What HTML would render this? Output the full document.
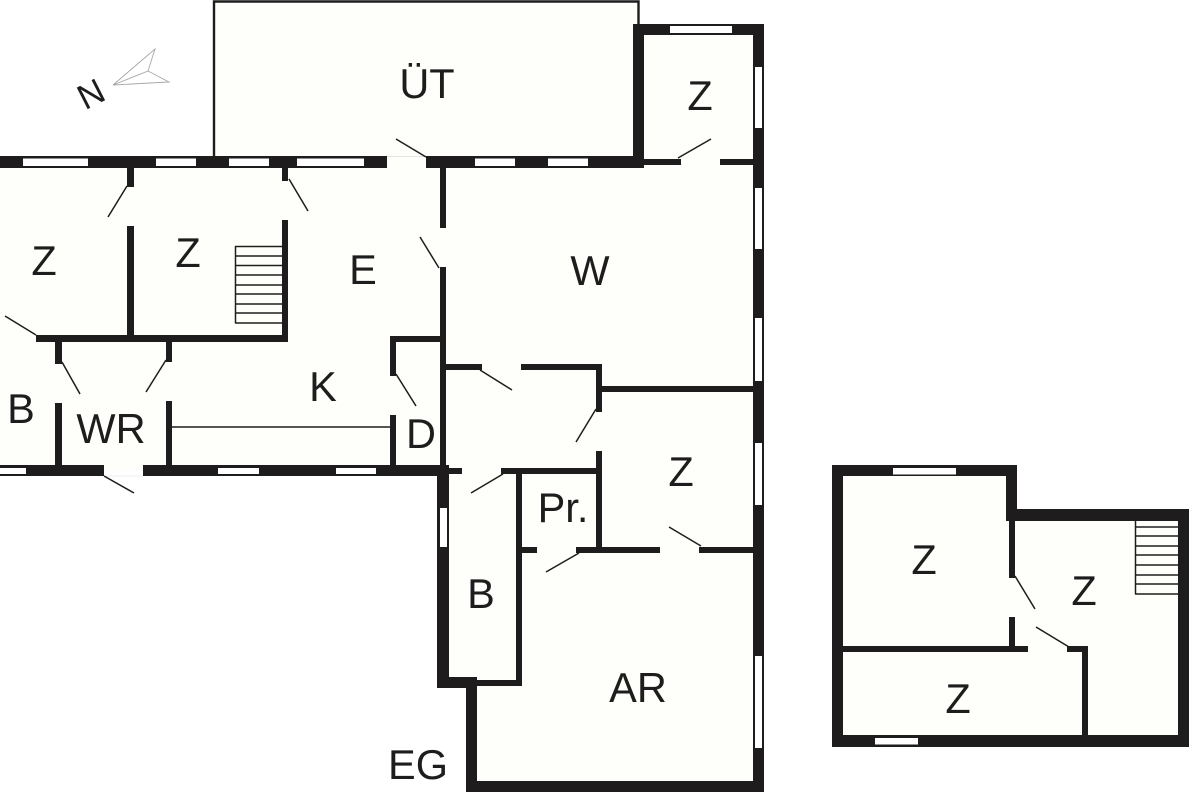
<!DOCTYPE html>
<html>
<head>
<meta charset="utf-8">
<style>
html,body{margin:0;padding:0;background:#fff;width:1200px;height:800px;overflow:hidden}
svg{display:block}
text{font-family:"Liberation Sans",sans-serif;font-size:41.500px;fill:#1e1c1c;text-anchor:middle}
</style>
</head>
<body>
<svg width="1200" height="800" viewBox="0 0 1200 800" xmlns="http://www.w3.org/2000/svg">
<!-- floor fills -->
<path fill="#fefefa" d="M0 160H215V2H638V30H760V786H470V684H440V470H0Z"/>
<path fill="#fefefa" d="M838 470H1012V515H1184V742H838Z"/>
<!-- terrace outline -->
<path fill="none" stroke="#1e1c1c" stroke-width="2.4" d="M214 158V1.500H638.500V26"/>
<line x1="387" y1="156.500" x2="426" y2="156.500" stroke="#e4e4e0" stroke-width="1"/>
<line x1="104" y1="476" x2="143" y2="476" stroke="#eeeeea" stroke-width="1"/>
<!-- walls -->
<g fill="#1e1c1c">
<rect x="0" y="156" width="387" height="12"/>
<rect x="426" y="156" width="218" height="12"/>
<rect x="633" y="24" width="131" height="11"/>
<rect x="633" y="24" width="11" height="144"/>
<rect x="753" y="24" width="11" height="768"/>
<rect x="644" y="159" width="37" height="6"/>
<rect x="720" y="159" width="33" height="6"/>
<rect x="440" y="168" width="6" height="60"/>
<rect x="440" y="267" width="6" height="200"/>
<rect x="127" y="168" width="7" height="19"/>
<rect x="127" y="226" width="7" height="110"/>
<rect x="36" y="335" width="252" height="7"/>
<rect x="282" y="168" width="6" height="13"/>
<rect x="282" y="220" width="6" height="122"/>
<rect x="55" y="342" width="7" height="22"/>
<rect x="55" y="403" width="7" height="64"/>
<rect x="166" y="342" width="6" height="20"/>
<rect x="166" y="401" width="6" height="66"/>
<rect x="390" y="415" width="6" height="52"/>
<rect x="390" y="336" width="6" height="40"/>
<rect x="390" y="336" width="50" height="6"/>
<rect x="0" y="465" width="104" height="11"/>
<rect x="143" y="465" width="306" height="11"/>
<rect x="449" y="468" width="13" height="6"/>
<rect x="437" y="474" width="12" height="214"/>
<rect x="437" y="677" width="40" height="11"/>
<rect x="466" y="677" width="11" height="115"/>
<rect x="466" y="781" width="298" height="11"/>
<rect x="477" y="680" width="45" height="6"/>
<rect x="516" y="468" width="6" height="218"/>
<rect x="501" y="468" width="101" height="6"/>
<rect x="596" y="451" width="6" height="102"/>
<rect x="576" y="547" width="84" height="6"/>
<rect x="522" y="547" width="15" height="6"/>
<rect x="699" y="547" width="54" height="6"/>
<rect x="446" y="364" width="36" height="6"/>
<rect x="521" y="364" width="81" height="6"/>
<rect x="596" y="364" width="6" height="48"/>
<rect x="602" y="386" width="151" height="6"/>
<!-- right building -->
<rect x="832" y="465" width="185" height="11"/>
<rect x="832" y="465" width="11" height="282"/>
<rect x="1006" y="465" width="11" height="56"/>
<rect x="1006" y="509" width="183" height="12"/>
<rect x="1178" y="509" width="11" height="238"/>
<rect x="832" y="735" width="357" height="12"/>
<rect x="1009" y="521" width="6" height="57"/>
<rect x="1009" y="617" width="6" height="33"/>
<rect x="843" y="646" width="185" height="6"/>
<rect x="1067" y="646" width="21" height="6"/>
<rect x="1082" y="646" width="6" height="89"/>
</g>
<!-- windows -->
<g fill="#fff">
<rect x="23" y="158.500" width="65" height="7.500"/>
<rect x="156" y="158.500" width="40" height="7.500"/>
<rect x="229" y="158.500" width="40" height="7.500"/>
<rect x="297" y="158.500" width="67" height="7.500"/>
<rect x="475" y="158.500" width="40" height="7.500"/>
<rect x="548" y="158.500" width="40" height="7.500"/>
<rect x="670" y="26" width="62" height="7"/>
<rect x="755" y="67" width="7" height="61"/>
<rect x="755" y="188" width="7" height="61"/>
<rect x="755" y="318" width="7" height="63"/>
<rect x="755" y="443" width="7" height="62"/>
<rect x="755" y="656" width="7" height="92"/>
<rect x="0" y="468" width="26" height="6"/>
<rect x="218" y="468" width="41" height="6"/>
<rect x="336" y="468" width="40" height="6"/>
<rect x="440" y="508" width="7" height="39"/>
<rect x="893" y="468" width="63" height="6.500"/>
<rect x="875" y="738" width="43" height="6.500"/>
</g>
<!-- door leaves and thin lines -->
<g stroke="#1e1c1c" stroke-width="1.500" fill="none">
<path d="M678 158L711 139"/>
<path d="M396 139L426 157"/>
<path d="M127 186L108 217"/>
<path d="M289 179L308 211"/>
<path d="M420 237L439 268"/>
<path d="M5 316L36 335"/>
<path d="M62 362L80 394"/>
<path d="M166 360L146 392"/>
<path d="M396 374L416 406"/>
<path d="M104 476L134 493"/>
<path d="M480 370L512 390"/>
<path d="M596 409L576 442"/>
<path d="M503 474L471 493"/>
<path d="M579 553L546 572"/>
<path d="M701 546L669 527"/>
<path d="M1015 576L1035 609"/>
<path d="M1069 647L1036 627"/>
<path d="M172 427H390"/>
<path d="M235 246.500H282M235 256H282M235 265.500H282M235 275H282M235 285H282M235 294H282M235 304H282M235 313H282M235 323H282M235.500 246V323"/>
<path d="M1135 527H1178M1135 536H1178M1135 546H1178M1135 555H1178M1135 565H1178M1135 575H1178M1135 584H1178M1135 594H1178M1135.500 521V594"/>
</g>
<!-- north arrow -->
<path d="M113 85L155 49L148 71L113 85L169 82L148 71" fill="none" stroke="#a8a8a8" stroke-width="0.9"/>
<!-- labels -->
<text x="427" y="98">ÜT</text>
<text x="700" y="110">Z</text>
<text x="590" y="285">W</text>
<text x="363" y="284">E</text>
<text x="44" y="275">Z</text>
<text x="188" y="267">Z</text>
<text x="323" y="401">K</text>
<text x="21" y="423">B</text>
<text x="111" y="443">WR</text>
<text x="421" y="448">D</text>
<text x="681" y="486">Z</text>
<text x="563" y="522">Pr.</text>
<text x="481" y="608">B</text>
<text x="638" y="702">AR</text>
<text x="418" y="779">EG</text>
<text x="924" y="574">Z</text>
<text x="1084" y="605">Z</text>
<text x="958" y="713">Z</text>
<text x="0" y="0" transform="translate(91 94) rotate(-27) translate(0 12)" style="font-size:35px">N</text>
</svg>
</body>
</html>
